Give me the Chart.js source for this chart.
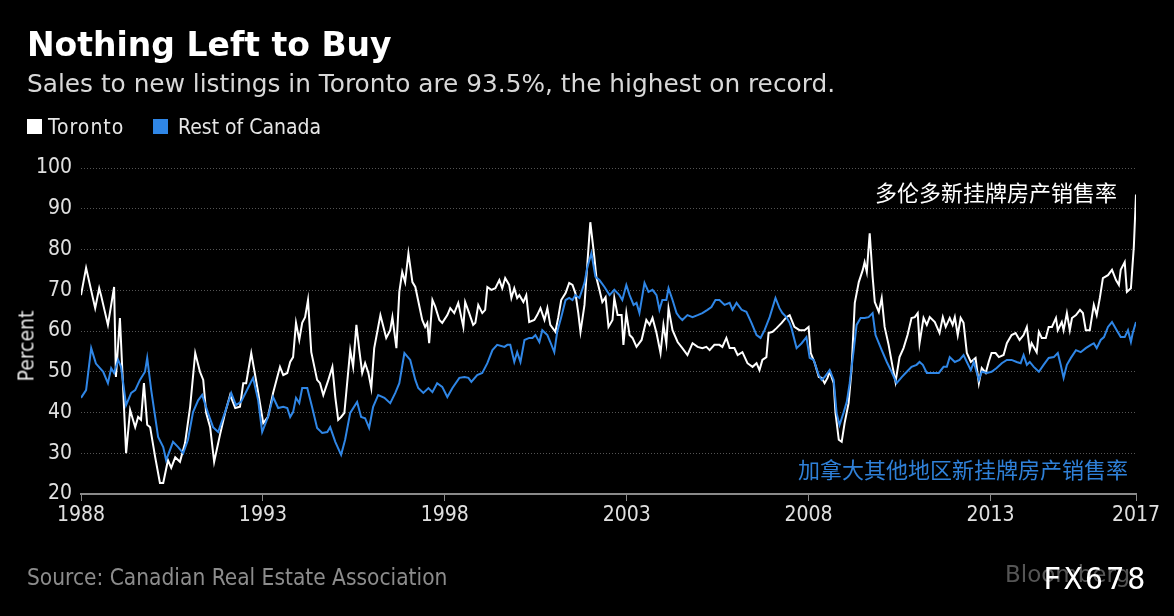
<!DOCTYPE html>
<html>
<head>
<meta charset="utf-8">
<script src="https://cdn.jsdelivr.net/npm/chart.js@4/dist/chart.umd.min.js"></script>
<style>
  html, body { margin:0; padding:0; background:#000; }
  body { width:1174px; height:616px; position:relative; overflow:hidden; }
  #wrap { position:absolute; left:0; top:0; width:1174px; height:616px; }
  .t { position:absolute; white-space:nowrap; }
  #title { left:27px; top:25px; font-family:"DejaVu Sans", sans-serif; font-weight:bold; font-size:33px; color:#fff; }
  #sub { left:27px; top:69px; font-family:"DejaVu Sans", sans-serif; font-size:24.8px; color:#d8d8d8; }
  .narrow { font-family:"Liberation Sans Narrow","DejaVu Sans Condensed","Roboto Condensed", sans-serif; font-stretch:condensed; }
  .sw { position:absolute; width:15px; height:15px; top:119px; }
  .leg { top:115px; font-size:21px; color:#e6e6e6; }
  #ytitle { left:-9px; top:334px; font-size:21px; color:#e6e6e6; transform:rotate(-90deg); }
  #cnT { left:875px; top:175px; font-family:"Noto Sans CJK SC", sans-serif; font-size:22px; color:#fff; }
  #cnB { left:798px; top:452px; font-family:"Noto Sans CJK SC", sans-serif; font-size:22px; color:#2f80d8; }
  #src { left:27px; top:564px; font-size:22.5px; color:#8c8c8c; }
  #bbg { left:1005px; top:561px; font-family:"DejaVu Sans", sans-serif; font-size:23px; color:#555; }
  #fx { left:1043px; top:561px; font-family:"DejaVu Sans Mono", monospace; font-size:30px; letter-spacing:3px; color:#fff; }
</style>
</head>
<body>
<div id="wrap"><canvas id="c" width="1174" height="616"></canvas></div>
<div class="t" id="title">Nothing Left to Buy</div>
<div class="t" id="sub">Sales to new listings in Toronto are 93.5%, the highest on record.</div>
<div class="sw" style="left:27px;background:#fff;"></div>
<div class="t leg narrow" style="left:48px;letter-spacing:1px;">Toronto</div>
<div class="sw" style="left:153px;background:#2f86e6;"></div>
<div class="t leg narrow" style="left:178px;">Rest of Canada</div>
<div class="t narrow" id="ytitle">Percent</div>
<div class="t" id="cnT">多伦多新挂牌房产销售率</div>
<div class="t" id="cnB">加拿大其他地区新挂牌房产销售率</div>
<div class="t narrow" id="src">Source: Canadian Real Estate Association</div>
<div class="t" id="bbg">Bloomberg</div>
<div class="t" id="fx">FX678</div>
<script>
// ---- data (decimal years, percent) ----
const xTickYears = [1988, 1993, 1998, 2003, 2008, 2013, 2017];
const yTicks = [20, 30, 40, 50, 60, 70, 80, 90, 100];

const torontoYears = [1988.00,1988.14,1988.39,1988.50,1988.55,1988.74,1988.91,1988.96,1989.07,1989.24,1989.35,1989.49,1989.57,1989.65,1989.73,1989.82,1989.90,1990.04,1990.17,1990.26,1990.39,1990.48,1990.59,1990.72,1990.86,1991.00,1991.14,1991.27,1991.36,1991.44,1991.55,1991.66,1991.82,1991.96,1992.10,1992.24,1992.37,1992.46,1992.54,1992.68,1992.85,1993.01,1993.14,1993.28,1993.47,1993.56,1993.67,1993.75,1993.83,1993.91,1994.00,1994.08,1994.16,1994.24,1994.33,1994.49,1994.57,1994.66,1994.80,1994.91,1994.99,1995.07,1995.15,1995.24,1995.40,1995.48,1995.57,1995.65,1995.73,1995.81,1995.90,1995.98,1996.06,1996.23,1996.39,1996.50,1996.56,1996.67,1996.75,1996.83,1996.91,1997.00,1997.11,1997.19,1997.38,1997.46,1997.52,1997.57,1997.66,1997.74,1997.85,1997.93,1998.07,1998.15,1998.26,1998.37,1998.51,1998.56,1998.67,1998.78,1998.84,1998.92,1999.03,1999.11,1999.17,1999.28,1999.39,1999.50,1999.58,1999.66,1999.77,1999.83,1999.91,1999.99,2000.05,2000.16,2000.24,2000.32,2000.46,2000.54,2000.63,2000.74,2000.82,2000.90,2001.04,2001.12,2001.20,2001.32,2001.42,2001.51,2001.59,2001.67,2001.73,2001.84,2001.92,2002.00,2002.11,2002.17,2002.25,2002.33,2002.42,2002.50,2002.61,2002.66,2002.75,2002.86,2002.91,2002.99,2003.08,2003.16,2003.27,2003.41,2003.54,2003.63,2003.71,2003.82,2003.93,2004.01,2004.09,2004.15,2004.26,2004.40,2004.53,2004.67,2004.81,2004.95,2005.08,2005.19,2005.28,2005.41,2005.55,2005.63,2005.74,2005.83,2005.96,2006.05,2006.18,2006.32,2006.46,2006.57,2006.65,2006.73,2006.84,2006.90,2007.01,2007.12,2007.26,2007.39,2007.48,2007.61,2007.75,2007.89,2008.00,2008.06,2008.17,2008.28,2008.36,2008.44,2008.52,2008.58,2008.69,2008.74,2008.83,2008.91,2008.99,2009.10,2009.18,2009.27,2009.38,2009.49,2009.54,2009.60,2009.68,2009.76,2009.82,2009.93,2010.01,2010.09,2010.20,2010.31,2010.39,2010.50,2010.61,2010.72,2010.83,2010.92,2011.00,2011.05,2011.16,2011.25,2011.33,2011.47,2011.60,2011.69,2011.77,2011.88,2011.96,2012.02,2012.10,2012.18,2012.26,2012.35,2012.46,2012.59,2012.68,2012.76,2012.87,2012.95,2013.03,2013.14,2013.23,2013.36,2013.45,2013.58,2013.69,2013.80,2013.91,2014.00,2014.08,2014.13,2014.27,2014.33,2014.41,2014.52,2014.60,2014.69,2014.80,2014.85,2014.96,2015.01,2015.10,2015.18,2015.24,2015.35,2015.46,2015.54,2015.62,2015.73,2015.84,2015.92,2016.01,2016.09,2016.23,2016.34,2016.45,2016.53,2016.58,2016.69,2016.75,2016.86,2016.94,2017.00];
const torontoValues = [68.8,75.5,65.6,70.5,68.8,61.5,70.8,48.7,63.2,30.0,40.6,36.4,38.9,38.2,47.2,37.0,36.4,29.0,22.7,22.7,28.3,26.4,29.0,27.9,32.5,41.4,54.6,50.0,48.0,39.9,36.4,27.9,34.5,39.9,44.3,41.1,41.4,47.2,47.2,54.6,46.0,37.4,38.9,44.8,51.2,49.2,49.7,52.4,53.6,62.0,57.8,62.0,63.4,67.6,54.8,48.0,47.2,44.3,48.0,51.2,43.8,38.2,38.9,39.9,55.3,51.2,61.5,55.3,49.7,52.1,49.7,46.0,55.8,63.9,58.3,60.2,63.4,55.8,69.6,74.5,72.0,79.1,72.0,70.8,62.7,61.0,62.0,57.0,67.6,65.9,62.7,62.0,63.9,65.6,64.4,66.9,61.0,67.1,64.4,61.5,62.0,66.4,64.4,65.2,70.8,70.1,70.5,72.5,70.5,73.0,71.3,68.1,70.5,68.1,68.8,67.1,68.8,62.2,62.7,63.9,65.6,62.7,65.6,61.5,59.8,63.4,67.6,69.3,71.8,71.3,69.3,64.4,59.8,66.4,76.7,86.7,78.2,73.0,70.1,67.1,68.3,61.0,62.7,68.1,63.9,63.9,56.6,64.4,59.0,58.3,56.1,57.8,62.7,61.5,63.2,59.5,54.6,61.5,57.0,65.6,60.2,57.3,55.8,54.1,57.0,56.1,55.8,56.1,55.3,56.6,56.6,56.1,58.3,55.8,55.8,54.1,54.8,52.1,51.2,52.1,50.4,52.9,53.6,59.5,59.8,60.7,62.0,63.4,63.9,61.0,60.2,60.2,61.0,54.6,52.1,48.7,48.5,47.2,48.5,50.0,47.2,39.9,33.3,32.8,37.4,42.3,50.4,66.9,72.0,75.0,76.9,74.5,84.0,73.3,67.1,64.7,68.1,61.0,56.6,51.2,47.5,53.6,55.8,59.0,63.2,63.4,64.4,57.0,63.2,61.5,63.4,62.2,59.5,63.4,61.0,63.2,61.5,63.4,59.0,63.2,62.0,54.6,52.4,53.4,47.2,50.9,49.7,52.4,54.6,54.6,53.6,54.1,57.0,59.0,59.5,57.8,59.0,61.0,55.3,57.0,54.8,59.8,58.3,58.3,61.0,61.0,63.2,60.2,62.2,60.2,64.4,60.2,63.2,63.9,65.2,64.4,60.2,60.2,66.4,63.9,68.3,73.0,73.7,75.0,72.5,71.3,75.0,76.9,69.6,70.5,80.6,93.5];

const restYears = [1988.00,1988.14,1988.28,1988.41,1988.61,1988.74,1988.83,1988.91,1989.02,1989.10,1989.24,1989.38,1989.49,1989.62,1989.76,1989.82,1989.93,1990.12,1990.26,1990.34,1990.53,1990.67,1990.81,1990.94,1991.08,1991.22,1991.33,1991.49,1991.63,1991.77,1991.96,1992.13,1992.26,1992.40,1992.59,1992.73,1992.87,1992.98,1993.14,1993.28,1993.42,1993.56,1993.67,1993.75,1993.83,1993.91,1994.00,1994.08,1994.22,1994.35,1994.49,1994.63,1994.77,1994.85,1994.99,1995.15,1995.26,1995.40,1995.59,1995.70,1995.81,1995.92,1996.03,1996.17,1996.34,1996.50,1996.64,1996.75,1996.89,1997.05,1997.19,1997.27,1997.41,1997.55,1997.66,1997.79,1997.93,1998.07,1998.21,1998.40,1998.54,1998.65,1998.73,1998.89,1999.03,1999.17,1999.31,1999.44,1999.64,1999.72,1999.80,1999.91,1999.99,2000.08,2000.19,2000.32,2000.41,2000.49,2000.60,2000.68,2000.82,2000.90,2001.01,2001.09,2001.20,2001.32,2001.42,2001.51,2001.59,2001.70,2001.84,2001.92,2002.03,2002.14,2002.25,2002.39,2002.53,2002.66,2002.80,2002.88,2002.99,2003.08,2003.19,2003.27,2003.35,2003.49,2003.60,2003.71,2003.82,2003.90,2003.98,2004.09,2004.15,2004.26,2004.37,2004.45,2004.53,2004.67,2004.81,2004.95,2005.08,2005.22,2005.33,2005.44,2005.55,2005.69,2005.83,2005.91,2006.02,2006.16,2006.29,2006.43,2006.57,2006.68,2006.79,2006.93,2007.09,2007.20,2007.28,2007.39,2007.48,2007.53,2007.67,2007.81,2007.94,2008.03,2008.14,2008.28,2008.36,2008.44,2008.58,2008.69,2008.77,2008.85,2008.96,2009.05,2009.13,2009.24,2009.32,2009.43,2009.54,2009.65,2009.76,2009.84,2010.01,2010.15,2010.28,2010.42,2010.56,2010.70,2010.83,2010.97,2011.05,2011.14,2011.25,2011.44,2011.58,2011.71,2011.80,2011.88,2012.02,2012.15,2012.26,2012.35,2012.46,2012.54,2012.68,2012.76,2012.90,2013.03,2013.17,2013.31,2013.45,2013.58,2013.72,2013.83,2013.91,2014.00,2014.08,2014.19,2014.33,2014.46,2014.60,2014.74,2014.85,2014.93,2015.01,2015.10,2015.21,2015.35,2015.48,2015.62,2015.76,2015.84,2015.92,2016.03,2016.12,2016.23,2016.34,2016.47,2016.58,2016.69,2016.78,2016.86,2016.91,2017.00];
const restValues = [43.6,45.5,55.8,52.0,50.0,47.2,50.9,49.7,52.9,51.2,41.8,44.8,45.5,48.0,50.0,53.4,45.5,34.0,31.5,28.3,32.8,31.5,30.0,33.3,40.1,43.0,44.3,39.9,36.4,35.2,40.1,44.8,41.8,42.6,46.0,48.5,43.0,35.2,38.9,43.8,41.1,41.4,41.1,38.9,40.1,43.6,42.3,46.0,46.0,41.4,36.2,35.0,35.2,36.4,32.8,29.6,33.3,39.9,42.6,38.9,38.6,36.2,41.4,44.3,43.6,42.3,44.8,47.2,54.6,52.9,48.0,46.0,44.8,46.0,45.0,47.2,46.3,43.8,46.0,48.5,48.7,48.5,47.5,49.2,49.7,52.1,55.3,56.6,56.1,56.6,56.6,52.4,54.8,52.4,57.8,58.3,58.3,59.0,57.3,60.2,59.0,57.3,54.8,59.8,63.4,67.6,68.1,67.6,68.8,68.1,71.8,75.7,79.1,73.3,72.5,70.8,68.8,70.1,68.8,67.6,71.3,68.8,66.4,66.9,64.4,71.8,69.6,70.1,68.8,65.2,67.6,67.6,70.5,67.6,64.4,63.4,62.7,63.9,63.4,63.9,64.4,65.2,65.9,67.6,67.6,66.4,66.9,65.2,66.9,65.2,64.7,62.0,59.0,58.3,60.2,63.4,68.1,65.6,64.4,63.4,62.0,60.7,55.8,57.0,58.5,53.4,52.9,49.2,48.0,48.7,50.4,48.0,39.9,36.9,39.9,42.6,47.2,55.3,61.5,63.2,63.2,63.4,64.4,59.0,55.3,52.4,50.0,47.2,48.7,50.0,51.2,51.7,52.4,51.7,49.7,49.7,49.7,51.2,51.2,53.6,52.4,52.9,54.1,52.4,50.4,52.4,48.0,50.0,49.7,50.0,50.9,52.1,52.9,52.9,52.4,52.1,54.1,51.7,52.4,51.2,50.0,51.7,53.4,53.6,54.6,51.7,48.5,51.7,53.4,55.3,54.8,55.8,56.6,57.0,55.8,57.8,58.5,61.0,62.2,60.2,58.5,58.5,60.2,57.3,59.5,62.2];

const pts = (xs, ys) => xs.map((x, i) => ({ x: x, y: ys[i] }));

const tickFont = { family: '"Liberation Sans Narrow","DejaVu Sans Condensed","Roboto Condensed",sans-serif', size: 21 };

new Chart(document.getElementById('c'), {
  type: 'line',
  data: {
    datasets: [
      { label: 'Toronto', data: pts(torontoYears, torontoValues), borderColor: '#ffffff', borderWidth: 2, pointRadius: 0, tension: 0, order: 1 },
      { label: 'Rest of Canada', data: pts(restYears, restValues), borderColor: '#2f86e6', borderWidth: 2, pointRadius: 0, tension: 0, order: 0 }
    ]
  },
  options: {
    responsive: false,
    animation: false,
    devicePixelRatio: 1,
    layout: { padding: { left: 0, top: 168, right: 38, bottom: 0 } },
    plugins: { legend: { display: false }, tooltip: { enabled: false } },
    scales: {
      x: {
        type: 'linear', min: 1988, max: 2017,
        afterBuildTicks: s => { s.ticks = xTickYears.map(v => ({ value: v })); },
        afterFit: s => { s.height = 122; },
        ticks: { color: '#e0e0e0', font: tickFont, padding: 2, maxRotation: 0, autoSkip: false, callback: v => String(v) },
        grid: { drawOnChartArea: false, drawTicks: true, tickLength: 7, color: '#8a8a8a', lineWidth: 1 },
        border: { display: true, color: '#8a8a8a', width: 2 }
      },
      y: {
        min: 20, max: 100,
        afterBuildTicks: s => { s.ticks = yTicks.map(v => ({ value: v })); },
        afterFit: s => { s.width = 81; },
        ticks: { color: '#e0e0e0', font: tickFont, padding: 9 },
        grid: { drawTicks: false, color: c => c.tick && c.tick.value === 20 ? 'rgba(0,0,0,0)' : 'rgba(255,255,255,0.33)', lineWidth: 1 },
        border: { display: false, dash: [1, 2] }
      }
    }
  }
});
</script>
</body>
</html>
